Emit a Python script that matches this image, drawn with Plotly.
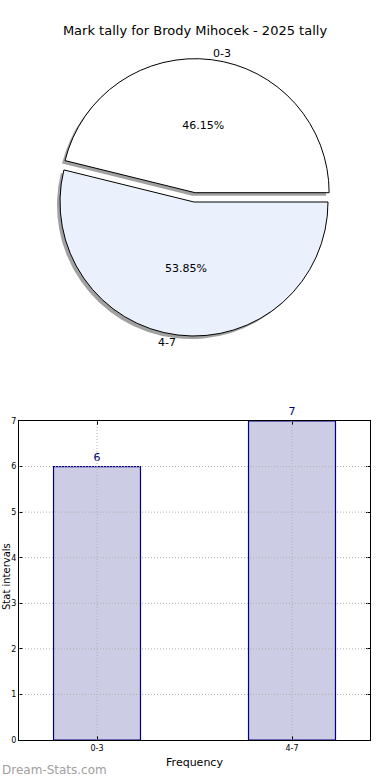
import plotly.graph_objects as go

categories = ["0-3", "4-7"]
counts = [6, 7]
pie_colors = ["#ffffff", "#eaf1fd"]
pull = [0.07, 0.0]
y_ticks = [0, 1, 2, 3, 4, 5, 6, 7]
title = "Mark tally for Brody Mihocek - 2025 tally"

W, H = 390, 780
FONT = "DejaVu Sans"


def px_x(x):
    return x / W


def px_y(y):
    return 1 - y / H


# first slice starts at 3 o'clock and runs counterclockwise (matplotlib default)
rotation = 90 - 360 * counts[0] / sum(counts)

cx, cy, r = 194, 202, 134
half = r * (1 + max(pull))
dom_x = [px_x(cx - half), px_x(cx + half)]
dom_y = [px_y(cy + half), px_y(cy - half)]
sh = 3
dom_x_sh = [px_x(cx - half - sh), px_x(cx + half - sh)]
dom_y_sh = [px_y(cy + half + sh), px_y(cy - half + sh)]

fig = go.Figure()

# shadow pie
fig.add_trace(go.Pie(
    labels=categories, values=counts, pull=pull, sort=False,
    rotation=rotation, direction="clockwise",
    marker=dict(colors=["rgba(110,110,110,0.65)"] * 2, line=dict(width=0)),
    textinfo="none", hoverinfo="skip", showlegend=False,
    domain=dict(x=dom_x_sh, y=dom_y_sh),
))

fig.add_trace(go.Pie(
    labels=categories, values=counts, pull=pull, sort=False,
    rotation=rotation, direction="clockwise",
    marker=dict(colors=pie_colors, line=dict(color="#000000", width=1)),
    texttemplate="%{percent:.2%}", textposition="inside",
    insidetextorientation="horizontal",
    textfont=dict(family=FONT, size=11, color="#000000"),
    showlegend=False,
    domain=dict(x=dom_x, y=dom_y),
))

fig.add_trace(go.Bar(
    x=[0, 1], y=counts, width=0.446,
    marker=dict(color="#ccccE5", line=dict(color="#000080", width=1.2)),
    text=[str(c) for c in counts], textposition="outside",
    textfont=dict(family=FONT, size=11, color="#000080"),
    cliponaxis=False, showlegend=False,
    xaxis="x", yaxis="y",
))

x_dom = [px_x(19), px_x(370)]
y_dom = [px_y(740), px_y(421)]

shapes = []
for t in y_ticks[1:-1]:
    shapes.append(dict(type="line", xref="paper", yref="y", x0=x_dom[0], x1=x_dom[1],
                       y0=t, y1=t, layer="above",
                       line=dict(color="#b0b0b0", width=1, dash="1px,2px")))
for i in range(len(categories)):
    shapes.append(dict(type="line", xref="x", yref="paper", x0=i, x1=i,
                       y0=y_dom[0], y1=y_dom[1], layer="above",
                       line=dict(color="#b0b0b0", width=1, dash="1px,2px")))

axis_common = dict(
    showgrid=False, showline=True, linecolor="#000000", linewidth=1, mirror="ticks",
    ticks="inside", ticklen=4, tickcolor="#000000", automargin=False,
    tickfont=dict(family=FONT, size=8), zeroline=False, fixedrange=True,
)

fig.update_layout(
    width=W, height=H,
    margin=dict(l=0, r=0, t=0, b=0, autoexpand=False),
    paper_bgcolor="white", plot_bgcolor="white",
    font=dict(family=FONT, color="#000000"),
    title=dict(text=title, x=px_x(195), xanchor="center", y=px_y(30), yanchor="middle",
               font=dict(family=FONT, size=13, color="#000000")),
    xaxis=dict(domain=x_dom, range=[-0.4, 1.4],
               tickmode="array", tickvals=list(range(len(categories))), ticktext=categories,
               title=dict(text="Frequency", font=dict(family=FONT, size=11), standoff=6),
               **axis_common),
    yaxis=dict(domain=y_dom, range=[y_ticks[0], y_ticks[-1]],
               tickmode="array", tickvals=y_ticks,
               **axis_common),
    shapes=shapes,
    annotations=[
        dict(text=categories[0], x=px_x(222), y=px_y(54), xref="paper", yref="paper",
             xanchor="center", yanchor="middle",
             showarrow=False, font=dict(family=FONT, size=11)),
        dict(text=categories[1], x=px_x(167), y=px_y(342), xref="paper", yref="paper",
             xanchor="center", yanchor="middle",
             showarrow=False, font=dict(family=FONT, size=11)),
        dict(text="Stat intervals", x=px_x(6), y=px_y(577), xref="paper", yref="paper",
             xanchor="center", yanchor="middle", borderpad=0,
             textangle=-90, showarrow=False, font=dict(family=FONT, size=10)),
        dict(text="Dream-Stats.com", x=0, y=px_y(770), xref="paper", yref="paper",
             xanchor="left", yanchor="middle", showarrow=False,
             font=dict(family=FONT, size=12, color="#a0a0a0")),
    ],
)

fig.write_html("out.html", config={"displayModeBar": False},
               post_script="document.body.style.margin='0';")
